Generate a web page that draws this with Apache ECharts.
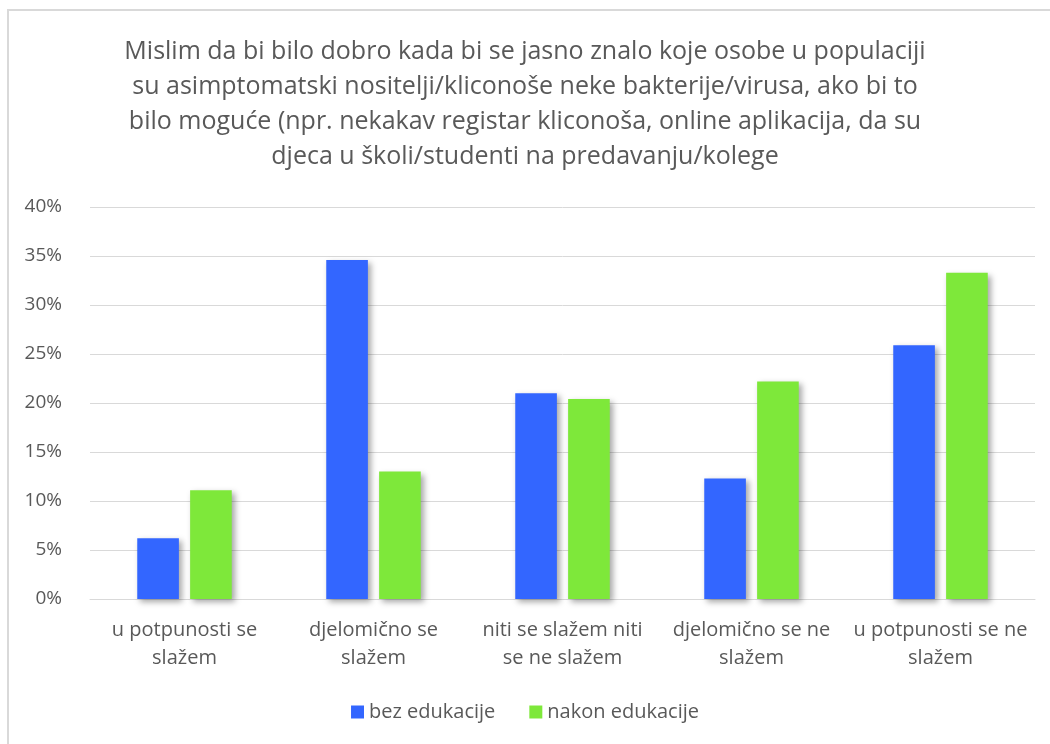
<!DOCTYPE html>
<html>
<head>
<meta charset="utf-8">
<script src="https://cdn.jsdelivr.net/npm/echarts@6/dist/echarts.min.js"></script>
<style>
  html, body { margin: 0; padding: 0; background: #fff; }
  #chart { width: 1050px; height: 744px; }
</style>
</head>
<body>
<div id="chart"></div>
<script>
const categories = [
  'u potpunosti se\nslažem',
  'djelomično se\nslažem',
  'niti se slažem niti\nse ne slažem',
  'djelomično se ne\nslažem',
  'u potpunosti se ne\nslažem'
]
const bezEdukacije = [6.2, 34.6, 21.0, 12.3, 25.9]
const nakonEdukacije = [11.1, 13.0, 20.4, 22.2, 33.3]
const seriesNames = ['bez edukacije', 'nakon edukacije']
const titleText = 'Mislim da bi bilo dobro kada bi se jasno znalo koje osobe u populaciji\n' +
  'su asimptomatski nositelji/kliconoše neke bakterije/virusa, ako bi to\n' +
  'bilo moguće (npr. nekakav registar kliconoša, online aplikacija, da su\n' +
  'djeca u školi/studenti na predavanju/kolege'

const font = '"Open Sans", "Noto Sans", sans-serif'
const textColor = '#595959'

const chart = echarts.init(document.getElementById('chart'))

const barShadow = {
  shadowBlur: 6,
  shadowOffsetX: 3,
  shadowOffsetY: 3,
  shadowColor: 'rgba(0,0,0,0.35)'
}

chart.setOption({
  animation: false,
  // chart frame (right/bottom edges run off the picture)
  graphic: [{
    type: 'rect',
    shape: { x: 8, y: 10, width: 1060, height: 760 },
    style: { fill: 'none', stroke: '#d9d9d9', lineWidth: 2 }
  }],
  title: {
    text: titleText,
    left: 'center',
    top: 29,
    textStyle: {
      fontFamily: font,
      fontSize: 25,
      fontWeight: 'normal',
      color: textColor,
      lineHeight: 35
    }
  },
  legend: {
    bottom: 17,
    left: 'center',
    itemWidth: 13,
    itemHeight: 13,
    itemGap: 34,
    icon: 'rect',
    textStyle: { fontFamily: font, fontSize: 20, color: textColor }
  },
  grid: { left: 90, right: 15, top: 207, bottom: 145 },
  xAxis: {
    type: 'category',
    data: categories,
    axisTick: { show: false },
    axisLine: { lineStyle: { color: '#d9d9d9' } },
    axisLabel: {
      fontFamily: font,
      fontSize: 20,
      color: textColor,
      lineHeight: 28,
      margin: 17,
      interval: 0
    }
  },
  yAxis: {
    type: 'value',
    min: 0,
    max: 40,
    interval: 5,
    axisLine: { show: false },
    axisTick: { show: false },
    splitLine: { lineStyle: { color: '#d9d9d9', width: 1 } },
    axisLabel: {
      fontFamily: font,
      fontSize: 19,
      color: textColor,
      margin: 28,
      formatter: '{value}%'
    }
  },
  series: [
    {
      name: seriesNames[0],
      type: 'bar',
      data: bezEdukacije,
      barGap: '27%',
      barCategoryGap: '50%',
      itemStyle: Object.assign({ color: '#3366ff' }, barShadow)
    },
    {
      name: seriesNames[1],
      type: 'bar',
      data: nakonEdukacije,
      itemStyle: Object.assign({ color: '#7ee83a' }, barShadow)
    }
  ]
})
</script>
</body>
</html>
